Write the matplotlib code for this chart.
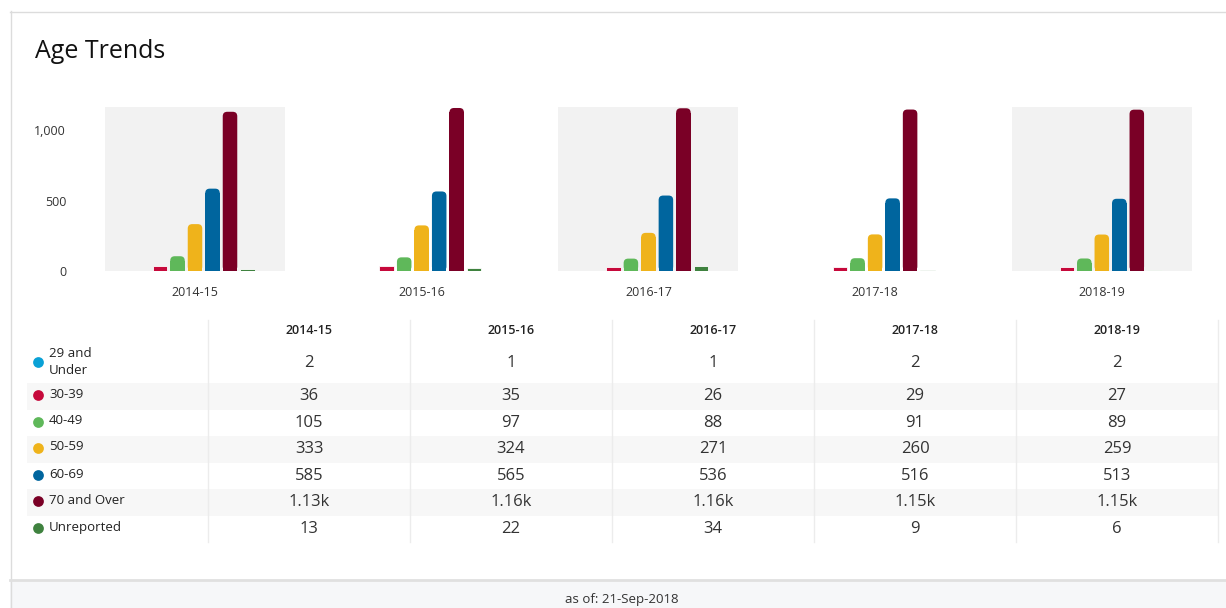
import matplotlib.pyplot as plt
from matplotlib.patches import Rectangle, FancyBboxPatch

W, H = 1226, 608

years = ["2014-15", "2015-16", "2016-17", "2017-18", "2018-19"]
groups = ["29 and\nUnder", "30-39", "40-49", "50-59", "60-69", "70 and Over", "Unreported"]
colors = ["#0aa1d6", "#c6093b", "#5fb85a", "#efb31b", "#00659e", "#7a0026", "#3f823f"]

# counts per age group, one list per year
under29 = [2, 1, 1, 2, 2]
age30s = [36, 35, 26, 29, 27]
age40s = [105, 97, 88, 91, 89]
age50s = [333, 324, 271, 260, 259]
age60s = [585, 565, 536, 516, 513]
over70 = [1131, 1158, 1156, 1147, 1146]
unreported = [13, 22, 34, 9, 6]
series = [under29, age30s, age40s, age50s, age60s, over70, unreported]

yticks = [0, 500, 1000]
ytick_labels = ["0", "500", "1,000"]

plt.rcParams['font.family'] = ['Open Sans', 'DejaVu Sans']


def px_axes(fig, x, y, w, h):
    # x, y = top-left corner in pixels
    return fig.add_axes([x / W, 1 - (y + h) / H, w / W, h / H])


def fmt(v):
    if v >= 1000:
        return f"{v / 1000:.2f}k"
    return str(v)


def round_tops(ax, bars, r_px, px_per_x, px_per_y):
    # swap each bar rectangle for one with rounded top corners
    rx = r_px / px_per_x
    ry = r_px / px_per_y
    for b in bars:
        x, w, h = b.get_x(), b.get_width(), b.get_height()
        if h <= 2 * ry:
            continue
        col = b.get_facecolor()
        b.set_visible(False)
        ax.add_patch(FancyBboxPatch((x, 0), w, h, boxstyle=f"round,pad=0,rounding_size={rx}",
                                    mutation_aspect=ry / rx, fc=col, ec="none"))
        ax.add_patch(Rectangle((x, 0), w, h - ry, fc=col, ec="none"))


fig = plt.figure(figsize=(W / 100, H / 100), dpi=100)

# background layer in pixel coordinates
bg = fig.add_axes([0, 0, 1, 1])
bg.set_xlim(0, W)
bg.set_ylim(H, 0)
bg.axis('off')
bg.set_zorder(0)

# card border and footer
bg.add_patch(Rectangle((10, 580), W - 10, H - 580, color="#f6f7f9", lw=0))
bg.plot([10, W], [11.5, 11.5], color="#dcdcdc", lw=1)
bg.plot([10.5, 10.5], [11, H], color="#dcdcdc", lw=1)
bg.plot([10, W], [579.5, 579.5], color="#e0e0e0", lw=2)
bg.text(622, 606.5, "as of: 21-Sep-2018", ha='center', va='bottom', fontsize=9.5, color="#333333")

bg.text(35, 51, "Age Trends", ha='left', va='center', fontsize=18, color="#111111")

# bar panels
panel_x0 = 105
panel_step = 226.7
panel_w = 180
panel_y0 = 107
panel_h = 164
ymax = 1165
bar_pitch = 17.5

for i, yr in enumerate(years):
    ax = px_axes(fig, panel_x0 + i * panel_step, panel_y0, panel_w, panel_h)
    ax.set_zorder(2)
    ax.set_facecolor("#f2f2f2" if i % 2 == 0 else "white")
    vals = [s[i] for s in series]
    bars = ax.bar(range(len(vals)), vals, width=0.83, color=colors, edgecolor="white", linewidth=0.6)
    half = panel_w / bar_pitch / 2
    ax.set_xlim(3 - half, 3 + half)
    ax.set_ylim(0, ymax)
    round_tops(ax, bars, 4.5, bar_pitch, panel_h / ymax)
    for sp in ax.spines.values():
        sp.set_visible(False)
    ax.set_xticks([3])
    ax.set_xticklabels([yr], fontsize=9, color="#333333")
    ax.tick_params(axis='x', length=0, pad=11)
    if i == 0:
        ax.set_yticks(yticks)
        ax.set_yticklabels(ytick_labels, fontsize=9, color="#333333")
        ax.tick_params(axis='y', length=0, pad=28)
    else:
        ax.set_yticks([])

# table
col_lines = [208, 410, 612, 814, 1016, 1218]
row_tops = [345, 383, 410, 436, 463, 489, 516, 542]
label_y = [362, 395, 422, 448, 475, 501, 528]

for r in range(len(groups)):
    if r % 2 == 1:
        bg.add_patch(Rectangle((27, row_tops[r]), 1191, row_tops[r + 1] - row_tops[r],
                               color="#f7f7f7", lw=0, zorder=1))
for x in col_lines:
    bg.plot([x, x], [320, 542], color="#ececec", lw=1, zorder=2)

for c, yr in enumerate(years):
    cx = (col_lines[c] + col_lines[c + 1]) / 2
    bg.text(cx, 330, yr, ha='center', va='center', fontsize=9, fontweight='semibold', color="#222222", zorder=3)
    for r, s in enumerate(series):
        bg.text(cx, label_y[r] + 1, fmt(s[c]), ha='center', va='center', fontsize=12, color="#333333", zorder=3)

for r, g in enumerate(groups):
    bg.scatter([38], [label_y[r]], s=60, color=colors[r], zorder=3, linewidths=0)
    bg.text(49, label_y[r] - (0 if r == 0 else 1), g, ha='left', va='center', fontsize=9.5,
            color="#222222", linespacing=1.45, zorder=3)

fig.savefig("out.png", dpi=100)
